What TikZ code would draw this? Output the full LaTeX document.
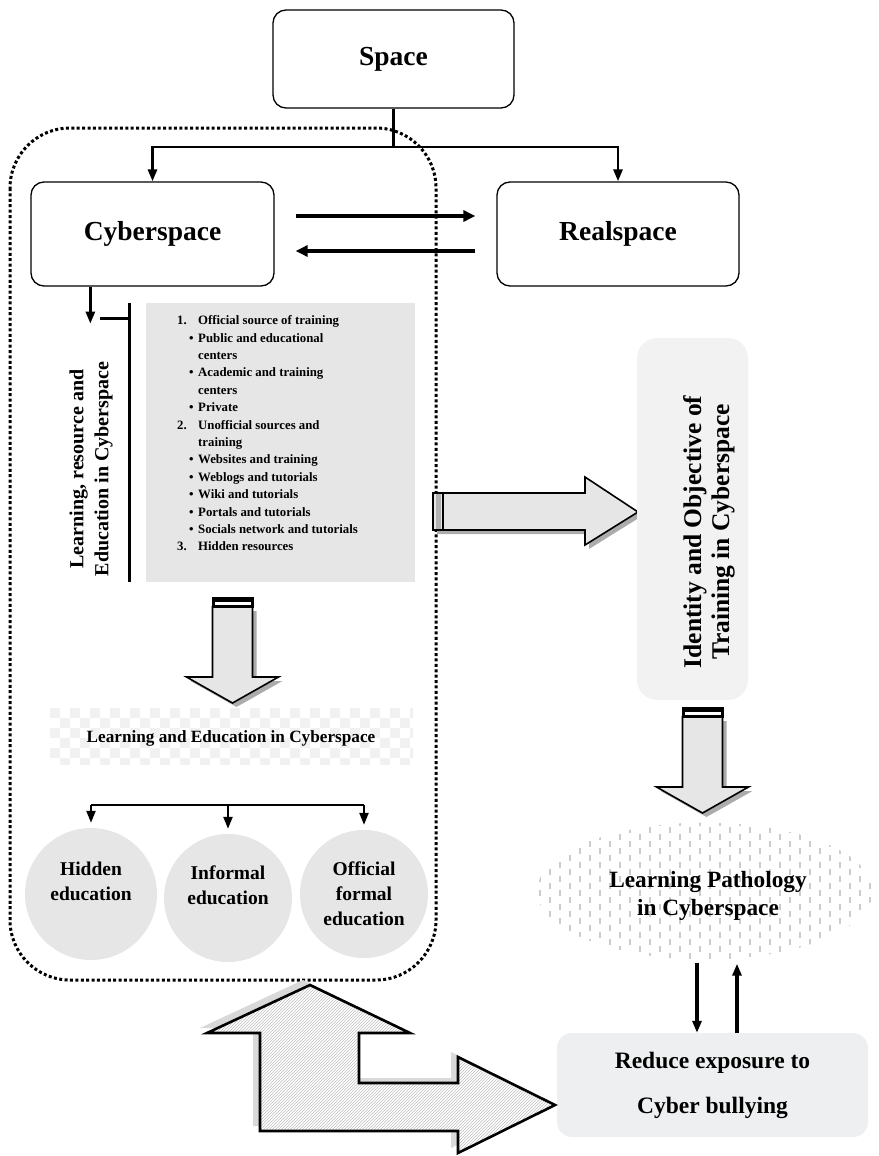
\documentclass[tikz,border=0pt]{standalone}
\usepackage{fontspec}
\setmainfont{Liberation Serif}
\usetikzlibrary{arrows.meta,shapes.geometric,patterns,calc}
\definecolor{boxgray}{HTML}{E6E6E6}
\definecolor{idgray}{HTML}{F2F2F2}
\definecolor{redgray}{HTML}{EEEFF0}
\begin{document}
\begin{tikzpicture}[x=1pt,y=-1pt,
  wbox/.style={draw, line width=1.3pt, rounded corners=13pt, fill=white, inner sep=0pt,
    font=\fontsize{27.5}{32}\selectfont\bfseries},
  conn/.style={line width=2.8pt, -{Triangle[length=12pt,width=9pt]}},
  fatconn/.style={line width=3.8pt, -{Triangle[length=12pt,width=11pt]}},
  plainline/.style={line width=3pt},
  circ/.style={circle, fill=boxgray, inner sep=0pt, align=center,
    font=\fontsize{19.5}{25}\selectfont\bfseries},
  blockfill/.style={fill=boxgray, draw=black, line width=1.6pt, line join=miter},
  shadowfill/.style={fill=gray!65},
  pics/blockdown/.style={code={
    \fill[shadowfill] (-16,14) -- (24,14) -- (24,84) -- (50,84) -- (4,110) -- (-42,84) -- (-16,84) -- cycle;
    \path[blockfill] (-20,10) -- (20,10) -- (20,80) -- (46,80) -- (0,106) -- (-46,80) -- (-20,80) -- cycle;
    \fill[black] (-21,0) rectangle (21,11);
    \fill[white] (-18,4.5) rectangle (18,8);
  }}
]
\useasboundingbox (0,0) rectangle (878,1156);

% dotted region
\draw[line width=3pt, dash pattern=on 3pt off 2.4pt, rounded corners=60pt] (10,128) rectangle (436,980);

% top boxes
\node[wbox, minimum width=241pt, minimum height=98pt] (space) at (393.5,59) {Space};
\node[wbox, minimum width=243pt, minimum height=104pt] (cyber) at (152.5,234) {Cyberspace};
\node[wbox, minimum width=242pt, minimum height=104pt] (real) at (618,234) {Realspace};

\coordinate (split) at (393.5,147);
\draw[plainline] (space.south) -- (split);
\draw[conn] (split) -| (cyber.north);
\draw[conn] (split) -| (real.north);

\draw[fatconn] ($(cyber.east)+(21,-18)$) -- ($(real.west)+(-21,-18)$);
\draw[fatconn] ($(real.west)+(-21,17)$) -- ($(cyber.east)+(21,17)$);

% list box
\node[fill=boxgray, minimum width=269pt, minimum height=279pt, inner sep=0pt] (listbox) at (280.5,442.5) {};
\node[anchor=north west, inner sep=0pt, align=left,
  font=\fontsize{12.8}{17.4}\selectfont\bfseries] (items) at (177,315.5) {%
\makebox[21pt][l]{1.}Official source of training\\
\hspace{12pt}\makebox[9pt][l]{\textbullet}Public and educational\\
\hspace{21pt}centers\\
\hspace{12pt}\makebox[9pt][l]{\textbullet}Academic and training\\
\hspace{21pt}centers\\
\hspace{12pt}\makebox[9pt][l]{\textbullet}Private\\
\makebox[21pt][l]{2.}Unofficial sources and\\
\hspace{21pt}training\\
\hspace{12pt}\makebox[9pt][l]{\textbullet}Websites and training\\
\hspace{12pt}\makebox[9pt][l]{\textbullet}Weblogs and tutorials\\
\hspace{12pt}\makebox[9pt][l]{\textbullet}Wiki and tutorials\\
\hspace{12pt}\makebox[9pt][l]{\textbullet}Portals and tutorials\\
\hspace{12pt}\makebox[9pt][l]{\textbullet}Socials network and tutorials\\
\makebox[21pt][l]{3.}Hidden resources};

% bracket and down arrow from Cyberspace
\coordinate (cyDown) at ($(cyber.south west)+(60,0)$);
\coordinate (cyTip) at ($(cyDown)+(0,37)$);
\draw[conn] (cyDown) -- (cyTip);
\coordinate (brTop) at ($(listbox.north west)+(-16,0)$);
\coordinate (brBot) at ($(listbox.south west)+(-16,0)$);
\draw[plainline] (brTop) -- (brBot);
\draw[plainline] ($(brTop)+(-30,16)$) -- ($(brTop)+(0,16)$);
\node[rotate=90, align=center, inner sep=0pt,
  font=\fontsize{20}{25}\selectfont\bfseries] (lre) at (91,469)
  {Learning, resource and\\Education in Cyberspace};

% down block arrow 1
\pic at (232.5,597) {blockdown};

% checkered banner
\node[minimum width=363pt, minimum height=56pt, inner sep=0pt] (banner) at (231.5,736) {};
\begin{scope}
  \clip (banner.north west) rectangle (banner.south east);
  \foreach \i in {0,...,36}{
    \foreach \j in {0,...,5}{
      \pgfmathtruncatemacro\m{mod(\i+\j,2)}
      \ifnum\m=0
        \fill[gray!11] ($(banner.north west)+(10*\i,10*\j)$) rectangle ++(10,10);
      \fi
    }
  }
\end{scope}
\node[inner sep=0pt, font=\fontsize{17.2}{20}\selectfont\bfseries] (bannertext) at (231,738)
  {Learning and Education in Cyberspace};

% circles
\node[circ, minimum size=132pt] (hid) at (91,894) {Hidden\\education\\\mbox{}};
\node[circ, minimum size=128pt] (inf) at (228,898) {Informal\\education\\\mbox{}};
\node[circ, minimum size=128pt] (off) at (364,894) {Official\\formal\\education};
\coordinate (bsplit) at (233,805);
\draw[line width=2.2pt] (hid.north |- bsplit) -- (off.north |- bsplit);
\draw[conn, line width=2.2pt, shorten >=5pt] (hid.north |- bsplit) -- (hid.north);
\draw[conn, line width=2.2pt, shorten >=5pt] (inf.north |- bsplit) -- (inf.north);
\draw[conn, line width=2.2pt, shorten >=5pt] (off.north |- bsplit) -- (off.north);

% right block arrow
\fill[shadowfill] (437,497) -- (589,497) -- (589,481) -- (642,516) -- (589,549) -- (589,534) -- (437,534) -- cycle;
\path[blockfill] (433,493) -- (585,493) -- (585,477) -- (638,512) -- (585,545) -- (585,530) -- (433,530) -- cycle;
\fill[gray!60] (435.5,494) rectangle (441,529);
\draw[line width=1.6pt] (443,493) -- (443,530);

% identity box
\node[fill=idgray, rounded corners=20pt, minimum width=111pt, minimum height=362pt, inner sep=0pt] (ident) at (692.5,519) {};
\node[rotate=90, align=center, inner sep=0pt,
  font=\fontsize{25.5}{28}\selectfont\bfseries] (identtext) at (709,532)
  {Identity and Objective of\\Training in Cyberspace};

% down block arrow 2
\pic at (702.5,707) {blockdown};

% ellipse
\node[ellipse, minimum width=336pt, minimum height=137pt, inner sep=0pt] (ell) at (705,891) {};
\begin{scope}
  \clip (705,891) ellipse [x radius=168pt, y radius=68.5pt];
  \foreach \x in {540,560,...,880}
    \draw[gray!40, line width=1.3pt, dash pattern=on 6pt off 8pt] (\x,820) -- (\x,965);
  \foreach \x in {550,570,...,880}
    \draw[gray!40, line width=1.3pt, dash pattern=on 6pt off 8pt, dash phase=7pt] (\x,820) -- (\x,965);
\end{scope}
\node[align=center, inner sep=0pt, font=\fontsize{23.3}{28}\selectfont\bfseries] (elltext) at (708,896)
  {Learning Pathology\\in Cyberspace};

% reduce box
\node[fill=redgray, rounded corners=15pt, minimum width=311pt, minimum height=104pt, inner sep=0pt,
  align=center, font=\fontsize{23.5}{45}\selectfont\bfseries] (reduce) at (712.5,1085)
  {Reduce exposure to\\Cyber bullying};
\draw[conn, line width=3.2pt] ($(ell.south)+(-8,3)$) -- ($(reduce.north)+(-15.5,0)$);
\draw[conn, line width=3.2pt] ($(reduce.north)+(24.5,0)$) -- ($(ell.south)+(32,4)$);

% big L-shaped double arrow
\fill[gray!30] [shift={(-7,-5)}] (310,985) -- (410,1033) -- (359,1033) -- (359,1083) -- (458,1083) -- (458,1057) -- (555,1105) -- (458,1153) -- (458,1131) -- (260,1131) -- (260,1033) -- (207,1033) -- cycle;
\fill[white] (310,985) -- (410,1033) -- (359,1033) -- (359,1083) -- (458,1083) -- (458,1057) -- (555,1105) -- (458,1153) -- (458,1131) -- (260,1131) -- (260,1033) -- (207,1033) -- cycle;
\fill[pattern=north east lines, pattern color=gray!50] (310,985) -- (410,1033) -- (359,1033) -- (359,1083) -- (458,1083) -- (458,1057) -- (555,1105) -- (458,1153) -- (458,1131) -- (260,1131) -- (260,1033) -- (207,1033) -- cycle;
\draw[line width=2.6pt, line join=miter] (310,985) -- (410,1033) -- (359,1033) -- (359,1083) -- (458,1083) -- (458,1057) -- (555,1105) -- (458,1153) -- (458,1131) -- (260,1131) -- (260,1033) -- (207,1033) -- cycle;
\end{tikzpicture}
\end{document}
